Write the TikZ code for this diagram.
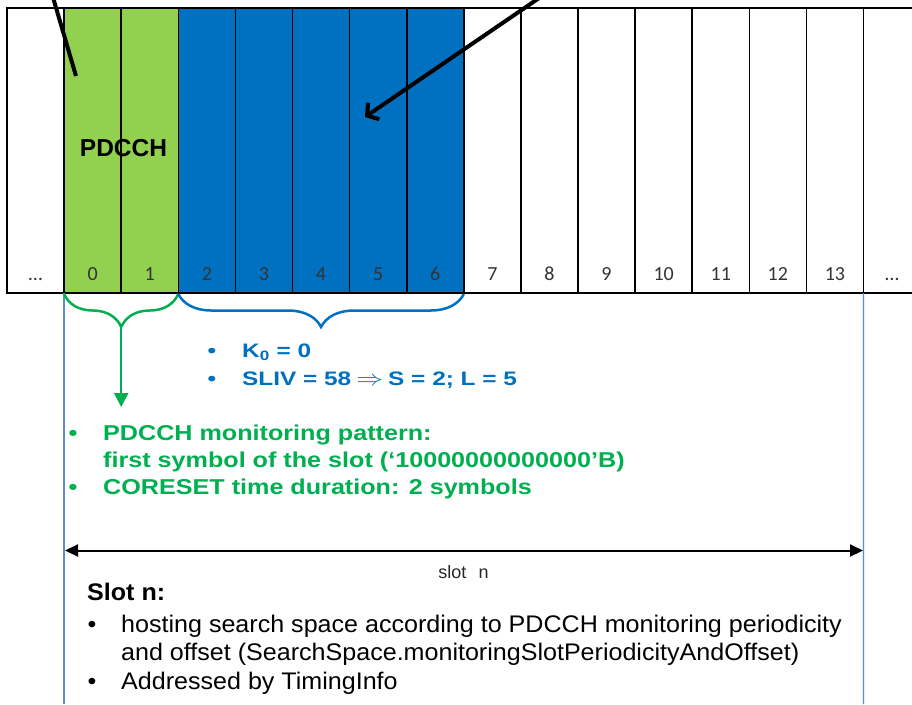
\documentclass[tikz,border=0pt]{standalone}
\usepackage{fontspec}
\usepackage{graphicx}
\setmainfont{Liberation Sans}
\newfontfamily\numfont{Carlito}
\newfontfamily\bluefont[FakeStretch=1.25]{Liberation Sans}
\newfontfamily\greenfont[FakeStretch=1.17]{Liberation Sans}
\newfontfamily\kfont[FakeStretch=1.045]{Liberation Sans}
\usetikzlibrary{arrows.meta,decorations.pathreplacing}
\definecolor{pgreen}{HTML}{92D050}
\definecolor{pblue}{HTML}{0070C0}
\definecolor{tgreen}{HTML}{00B050}
\definecolor{lblue}{HTML}{5B8FD0}
\tikzset{
  cellbox/.style={minimum width=57.1pt, minimum height=285pt, inner sep=0pt, outer sep=0pt, draw=none},
  cellline/.style={line width=1.6pt, black},
  numlab/.style={font=\numfont\fontsize{20}{24}\selectfont, text=black!80, anchor=base, inner sep=0pt},
  btxt/.style={font=\bluefont\bfseries\fontsize{19.5}{24}\selectfont, text=pblue, anchor=base west, inner sep=0pt},
  bbul/.style={font=\bluefont\bfseries\fontsize{19.5}{24}\selectfont, text=pblue, anchor=base, inner sep=0pt},
  gtxt/.style={font=\greenfont\bfseries\fontsize{21.5}{26}\selectfont, text=tgreen, anchor=base west, inner sep=0pt},
  gbul/.style={font=\greenfont\bfseries\fontsize{21.5}{26}\selectfont, text=tgreen, anchor=base, inner sep=0pt},
  ktxt/.style={font=\kfont\fontsize{24}{28}\selectfont, anchor=base west, inner sep=0pt},
  kbul/.style={font=\kfont\fontsize{24}{28}\selectfont, anchor=base, inner sep=0pt},
  pointer/.style={line width=4pt, black},
  gbrace/.style={line width=2.5pt, tgreen, decorate, decoration={brace, mirror, amplitude=33pt}},
  bbrace/.style={line width=2.5pt, pblue, decorate, decoration={brace, mirror, amplitude=33pt}},
  vline/.style={line width=1.3pt, lblue},
}
\begin{document}
\begin{tikzpicture}[x=1pt,y=1pt]
\useasboundingbox (0,0) rectangle (912,-704);
\clip (0,0) rectangle (912,-704);
\fill[white] (0,0) rectangle (912,-704);

% cells
\foreach \k in {0,...,15} {
  \pgfmathsetmacro\cx{7+57.1*(\k+0.5)}
  \ifnum\k<1 \def\fc{white}\else\ifnum\k<3 \def\fc{pgreen}\else\ifnum\k<8 \def\fc{pblue}\else\def\fc{white}\fi\fi\fi
  \node[cellbox, fill=\fc] (c\k) at (\cx,-150.5) {};
  \pgfmathtruncatemacro\lab{\k-1}
  \ifnum\k=0
    \node[numlab] (n\k) at (\cx,-280) {…};
  \else\ifnum\k=15
    \node[numlab] (n\k) at (\cx,-280) {…};
  \else
    \node[numlab] (n\k) at (\cx,-280) {\lab};
  \fi\fi
}

\node[font=\fontsize{24.5}{28}\selectfont\bfseries, anchor=base, inner sep=0pt] (pd) at (123.5,-156.7) {PDCCH};

\foreach \k in {0,...,15} {
  \draw[cellline] (c\k.south west) rectangle (c\k.north east);
}

% pointers from above
\coordinate (p1) at (52,6);
\coordinate (p2) at (76,-76);
\draw[pointer] (p1) -- (p2);
\coordinate (q1) at (545,6);
\coordinate (q2) at (365,-117);
\draw[pointer, -{Straight Barb[length=8pt,width=20pt]}] (q1) -- (q2);

% vertical slot boundaries
\coordinate (v1) at (64.1,-704);
\coordinate (v2) at (863.5,-704);
\draw[vline] (c1.south west) -- (v1);
\draw[vline] (c15.south west) -- (v2);

% braces
\draw[gbrace] ([yshift=-1pt]c1.south west) -- ([yshift=-1pt]c2.south east);
\draw[bbrace] ([yshift=-1pt]c3.south west) -- ([yshift=-1pt]c7.south east);
\coordinate (gt) at (121.2,-328);
\coordinate (ga) at (121.2,-407);
\draw[line width=2.5pt, tgreen, -{Triangle[length=14pt,width=14pt]}] (gt) -- (ga);

% blue text
\node[bbul] (bb1) at (212,-357) {•};
\node[btxt] (bt1) at (242,-357) {K\textsubscript{0} = 0};
\node[bbul] (bb2) at (212,-385) {•};
\node[btxt] (bt2) at (242,-385) {SLIV = 58\hspace{5pt}\scalebox{1.3}[1.05]{$\Rightarrow$}\hspace{5pt}S = 2; L = 5};

% green text
\node[gbul] (gb1) at (73,-440) {•};
\node[gtxt] (gt1) at (103,-440) {PDCCH monitoring pattern:};
\node[gtxt] (gt2) at (103,-467) {first symbol of the slot (‘10000000000000’B)};
\node[gbul] (gb3) at (73,-494) {•};
\node[gtxt] (gt3) at (103,-494) {CORESET time duration: 2 symbols};

% slot arrow
\coordinate (s1) at (65,-550.5);
\coordinate (s2) at (863,-550.5);
\draw[line width=2pt, {Triangle[length=13pt,width=12pt]}-{Triangle[length=13pt,width=12pt]}] (s1) -- (s2);
\node[font=\fontsize{18}{22}\selectfont, anchor=base, inner sep=0pt, text=black!85] (sl) at (463.5,-578) {slot\hspace{0.4em} n};

% bottom text
\node[ktxt, font=\kfont\fontsize{24}{28}\selectfont\bfseries] (kt0) at (87,-600.7) {Slot n:};
\node[kbul] (kb1) at (92,-632) {•};
\node[ktxt] (kt1) at (121,-632) {hosting search space according to PDCCH monitoring periodicity};
\node[ktxt] (kt2) at (121,-660) {and offset (SearchSpace.monitoringSlotPeriodicityAndOffset)};
\node[kbul] (kb3) at (92,-689) {•};
\node[ktxt] (kt3) at (121,-689) {Addressed by TimingInfo};
\end{tikzpicture}
\end{document}
